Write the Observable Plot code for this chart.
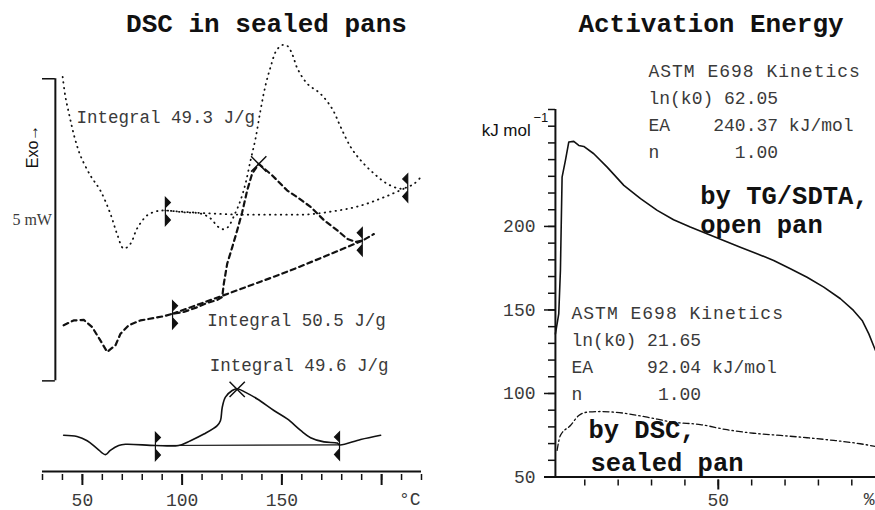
<!DOCTYPE html>
<html><head><meta charset="utf-8">
<script src="https://cdn.jsdelivr.net/npm/d3@7"></script>
<script src="https://cdn.jsdelivr.net/npm/@observablehq/plot@0.6"></script>
<style>
html,body{margin:0;padding:0;background:#fff;}
#wrap{display:flex;width:875px;height:510px;overflow:hidden;}
</style></head><body><div id="wrap"></div>
<script>
// ---------- Left panel: DSC in sealed pans (temperature °C, heat flow mW, offset curves) ----------
const dottedT  = [40.1, 41.5, 43.1, 44.8, 46.5, 49.0, 54.0, 59.0, 64.0, 67.4, 70.7, 74.1, 77.4, 82.5, 87.5, 91.6, 100.8, 109.2, 114.2, 117.7, 120.2, 122.8, 126.8, 129.3, 131.8, 134.3, 136.8, 139.3, 141.8, 144.3, 147.3, 150.4, 152.9, 155.4, 157.8, 162.7, 169.4, 175.3, 179.5, 184.5, 189.5, 196.2, 202.9, 209.6, 213.1, 216.2, 219.6];
const dottedMW = [5.03, 4.70, 4.45, 4.20, 3.98, 3.73, 3.40, 3.15, 2.77, 2.43, 2.19, 2.27, 2.52, 2.74, 2.81, 2.82, 2.79, 2.77, 2.69, 2.56, 2.51, 2.54, 2.79, 2.99, 3.27, 3.65, 4.01, 4.48, 4.89, 5.19, 5.47, 5.56, 5.54, 5.39, 5.17, 4.92, 4.75, 4.50, 4.20, 3.87, 3.65, 3.43, 3.26, 3.18, 3.21, 3.26, 3.37];
const dashedT  = [40.6, 45.6, 50.7, 54.9, 59.0, 62.4, 66.6, 69.1, 73.2, 79.1, 85.8, 90.8, 95.1, 100.8, 107.6, 112.6, 117.6, 120.1, 120.9, 122.6, 125.1, 127.6, 130.1, 132.6, 135.1, 138.4, 145.2, 152.7, 157.7, 164.4, 171.1, 177.8, 182.8, 187.0, 190.3, 196.1];
const dashedMW = [0.92, 1.00, 1.01, 0.89, 0.67, 0.48, 0.59, 0.78, 0.92, 1.00, 1.04, 1.07, 1.11, 1.14, 1.22, 1.29, 1.34, 1.39, 1.61, 1.94, 2.21, 2.49, 2.79, 3.15, 3.43, 3.59, 3.40, 3.15, 3.04, 2.88, 2.66, 2.49, 2.35, 2.30, 2.32, 2.43];
const solidT   = [40.6, 47.3, 52.4, 57.4, 61.5, 64.0, 68.2, 71.6, 86.6, 98.3, 104.2, 110.9, 117.6, 119.2, 120.1, 121.7, 125.1, 127.6, 131.8, 137.7, 146.0, 152.7, 159.4, 164.4, 171.1, 177.8, 178.9, 189.5, 199.5];
const solidMW  = [-0.90, -0.92, -0.99, -1.12, -1.22, -1.15, -1.07, -1.05, -1.07, -1.07, -0.99, -0.88, -0.74, -0.66, -0.44, -0.27, -0.16, -0.13, -0.19, -0.30, -0.49, -0.63, -0.82, -0.94, -1.01, -1.03, -1.06, -0.97, -0.90];

// integration baselines
const dottedBaseT  = [91.6, 109.2, 134.3, 159.4, 174.4, 189.5, 202.0, 213.1];
const dottedBaseMW = [2.82, 2.78, 2.75, 2.75, 2.80, 2.90, 3.05, 3.21];
const dashedBaseT  = [95.2, 129.3, 154.4, 174.4, 190.3];
const dashedBaseMW = [1.11, 1.52, 1.83, 2.10, 2.32];
const solidBaseT   = [86.6, 178.9];
const solidBaseMW  = [-1.07, -1.06];

// integration limits and peak marks
const limitStartT  = [91.6, 95.2, 86.6];
const limitStartMW = [2.82, 1.11, -1.07];
const limitEndT    = [213.1, 190.3, 178.9];
const limitEndMW   = [3.21, 2.32, -1.06];
const peakT  = [138.4, 127.6];
const peakMW = [3.59, -0.14];

const integrals = ["Integral 49.3 J/g", "Integral 50.5 J/g", "Integral 49.6 J/g"];
const scaleBarMW = [0, 5];

const leftMinorTicks = d3.range(30, 221, 10);
const leftMajorTicks = [50, 100, 150, 200];
const leftTickLabels = ["50", "100", "150", ""];

// ---------- Right panel: Activation energy vs conversion (%) ----------
const convTG = [1.2, 2.2, 2.7, 3.2, 4.2, 5.2, 6.7, 8.2, 9.7, 12.7, 16.7, 21.7, 26.7, 31.7, 36.6, 41.6, 46.6, 51.6, 56.6, 61.6, 66.6, 71.6, 76.6, 81.6, 86.6, 90.5, 93.1, 95.1, 97.1];
const eaTG   = [135.7, 147.7, 173.7, 229.5, 239.5, 250.5, 250.9, 248.5, 247.9, 243.5, 235.5, 224.6, 216.6, 209.6, 204.0, 199.6, 195.6, 191.6, 187.6, 183.7, 179.6, 174.7, 169.6, 163.7, 156.7, 149.7, 143.7, 135.7, 125.7];
const convDSC = [1.7, 2.7, 5.7, 8.2, 10.7, 14.7, 21.7, 28.7, 36.6, 44.6, 52.6, 60.6, 68.6, 76.6, 84.6, 92.5, 97.1];
const eaDSC   = [66.0, 74.9, 80.8, 86.8, 88.8, 89.2, 88.2, 85.8, 82.8, 81.4, 78.3, 76.2, 74.9, 73.5, 71.9, 69.9, 68.3];

const rightMinorY = d3.range(50, 271, 10);
const rightMajorY = [50, 100, 150, 200];
const rightMinorX = d3.range(10, 91, 10);
const rightMajorX = [50];

const kineticsTG  = ["ASTM E698 Kinetics", "ln(k0) 62.05", "EA\u00a0\u00a0\u00a0\u00a0240.37 kJ/mol", "n\u00a0\u00a0\u00a0\u00a0\u00a0\u00a0\u00a01.00"];
const kineticsDSC = ["ASTM E698 Kinetics", "ln(k0) 21.65", "EA\u00a0\u00a0\u00a0\u00a0\u00a092.04 kJ/mol", "n\u00a0\u00a0\u00a0\u00a0\u00a0\u00a0\u00a01.00"];
const curveNames  = ["by TG/SDTA,", "open pan", "by DSC,", "sealed pan"];

// ---------- helpers ----------
const MONO = "'Liberation Mono', 'DejaVu Sans Mono', monospace";
const SANS = "'Liberation Sans', Arial, sans-serif";
const SERIF = "'Liberation Serif', serif";
const INK = "#111";
const TXT = "#3a3a3a";
const rows = (xs, ys) => xs.map((x, i) => ({x, y: ys[i]}));

// limit marker: vertical stroke with two small triangles
function limitSymbol(dir) {
  return {draw(ctx) {
    ctx.moveTo(0, -13); ctx.lineTo(0, 15);
    ctx.moveTo(0, -13); ctx.lineTo(5 * dir, -8); ctx.lineTo(0, -3); ctx.closePath();
    ctx.moveTo(0, 4); ctx.lineTo(5 * dir, 9.5); ctx.lineTo(0, 15); ctx.closePath();
  }};
}

// annotation anchors (data coordinates)
const leftNotes = integrals.map((t, i) => ({text: t, x: [47.0, 112.6, 113.9][i], y: [4.26, 0.90, 0.156][i]}));

const left = Plot.plot({
  width: 437, height: 510,
  marginLeft: 42, marginRight: 16, marginTop: 39, marginBottom: 39,
  x: {domain: [30, 220], axis: null},
  y: {domain: [-1.5, 5.65], axis: null},
  style: {background: "#fff", fontFamily: MONO, overflow: "visible"},
  marks: [
    Plot.ruleY([-1.5], {stroke: INK, strokeWidth: 2}),
    Plot.axisX(leftMinorTicks, {label: null, tickSize: 6, dy: 3, tickFormat: () => "", stroke: INK, strokeWidth: 1.5}),
    Plot.axisX(leftMajorTicks, {label: null, tickSize: 11, dy: 3, tickPadding: 8, strokeWidth: 2, stroke: INK,
      tickFormat: d => leftTickLabels[leftMajorTicks.indexOf(d)], fontSize: 18, fontFamily: MONO, fill: TXT}),
    Plot.text(["°C"], {text: d => d, x: 214.1, y: -2.06, lineAnchor: "bottom", fontSize: 18, fontFamily: MONO, fill: TXT}),
    // scale bar
    Plot.ruleX([36.45], {y1: scaleBarMW[0], y2: scaleBarMW[1], stroke: INK, strokeWidth: 2}),
    Plot.ruleY(scaleBarMW, {x1: 30, x2: 36.45, stroke: INK, strokeWidth: 1.5}),
    Plot.text(["5 mW"], {text: d => d, x: 14.9, y: 2.58, textAnchor: "start", lineAnchor: "bottom", fontSize: 16, fontFamily: SERIF, fill: TXT}),
    Plot.text(["Exo\u2192"], {text: d => d, x: 25.4, y: 3.88, rotate: -90, fontSize: 16, fontFamily: SANS, fill: INK}),
    // baselines
    Plot.line(rows(dottedBaseT, dottedBaseMW), {x: "x", y: "y", stroke: INK, strokeWidth: 1.8, strokeDasharray: "0.5,5", strokeLinecap: "round", curve: "monotone-x"}),
    Plot.line(rows(dashedBaseT, dashedBaseMW), {x: "x", y: "y", stroke: INK, strokeWidth: 2.2, strokeDasharray: "5,4", curve: "monotone-x"}),
    Plot.line(rows(solidBaseT, solidBaseMW), {x: "x", y: "y", stroke: INK, strokeWidth: 1.2}),
    // curves
    Plot.line(rows(dottedT, dottedMW), {x: "x", y: "y", stroke: INK, strokeWidth: 1.8, strokeDasharray: "0.5,5", strokeLinecap: "round", curve: "catmull-rom"}),
    Plot.line(rows(dashedT, dashedMW), {x: "x", y: "y", stroke: INK, strokeWidth: 2.2, strokeDasharray: "5,4"}),
    Plot.line(rows(solidT, solidMW), {x: "x", y: "y", stroke: INK, strokeWidth: 1.6, curve: "catmull-rom"}),
    // limits & peaks
    Plot.dot(rows(limitStartT, limitStartMW), {x: "x", y: "y", symbol: limitSymbol(1), r: 5, fill: INK, stroke: INK, strokeWidth: 1.2}),
    Plot.dot(rows(limitEndT, limitEndMW), {x: "x", y: "y", symbol: limitSymbol(-1), r: 5, fill: INK, stroke: INK, strokeWidth: 1.2}),
    Plot.dot(rows(peakT, peakMW), {x: "x", y: "y", symbol: "times", r: 7, stroke: INK, strokeWidth: 1.5}),
    // labels
    Plot.text(leftNotes, {x: "x", y: "y", text: "text", textAnchor: "start", lineAnchor: "bottom", fontSize: 17.5, fontFamily: MONO, fill: TXT}),
    Plot.text(["DSC in sealed pans"], {text: d => d, frameAnchor: "top", dx: 34.5, dy: -7.3, lineAnchor: "bottom", fontSize: 26, fontWeight: "bold", fontFamily: MONO, fill: INK})
  ]
});

const tgNotes  = kineticsTG.map((t, i) => ({text: t, x: 29.07, y: [289.2, 273.1, 256.9, 240.7][i]}));
const dscNotes = kineticsDSC.map((t, i) => ({text: t, x: 6.02, y: [144.3, 128.7, 112.0, 95.8][i]}));
const nameNotes = curveNames.map((t, i) => ({text: t, x: [44.6, 44.6, 11.1, 11.7][i], y: [213.2, 195.8, 73.1, 53.3][i]}));

const right = Plot.plot({
  width: 438, height: 510,
  marginLeft: 107, marginRight: 0, marginTop: 109, marginBottom: 33.5,
  x: {domain: [-2.07, 97.1], axis: null},
  y: {domain: [50, 270], axis: null},
  style: {background: "#fff", fontFamily: MONO},
  marks: [
    Plot.ruleY([50], {stroke: INK, strokeWidth: 2}),
    Plot.ruleX([1.2], {stroke: INK, strokeWidth: 2}),
    Plot.axisY(rightMinorY, {label: null, tickSize: 7, dx: 11, tickFormat: () => "", stroke: INK, strokeWidth: 1.5}),
    Plot.axisY(rightMajorY, {label: null, tickSize: 11, dx: 11, tickPadding: 9, stroke: INK, strokeWidth: 1.5, fontSize: 18, fontFamily: MONO, fill: TXT}),
    Plot.axisX(rightMinorX, {label: null, tickSize: 6, dy: 3, tickFormat: () => "", stroke: INK, strokeWidth: 1.5}),
    Plot.axisX(rightMajorX, {label: null, tickSize: 10, dy: 3, tickPadding: 3, stroke: INK, strokeWidth: 2, fontSize: 18, fontFamily: MONO, fill: TXT}),
    Plot.text(["%"], {text: d => d, x: 93.6, y: 33.0, textAnchor: "start", lineAnchor: "bottom", fontSize: 18, fontFamily: MONO, fill: TXT}),
    Plot.text(["kJ mol"], {text: d => d, x: -20.9, y: 253.9, textAnchor: "start", lineAnchor: "bottom", fontSize: 17, fontFamily: SANS, fill: INK}),
    Plot.text(["\u22121"], {text: d => d, x: -5.4, y: 262.3, textAnchor: "start", lineAnchor: "bottom", fontSize: 13, fontFamily: SANS, fill: INK}),
    Plot.line(rows(convTG, eaTG), {x: "x", y: "y", stroke: INK, strokeWidth: 1.6, clip: true}),
    Plot.line(rows(convDSC, eaDSC), {x: "x", y: "y", stroke: INK, strokeWidth: 1.3, strokeDasharray: "6,3,1.5,3", clip: true, curve: "monotone-x"}),
    Plot.text(tgNotes, {x: "x", y: "y", text: "text", textAnchor: "start", lineAnchor: "bottom", fontSize: 18, fontFamily: MONO, fill: TXT}),
    Plot.text(dscNotes, {x: "x", y: "y", text: "text", textAnchor: "start", lineAnchor: "bottom", fontSize: 18, fontFamily: MONO, fill: TXT}),
    Plot.text(nameNotes, {x: "x", y: "y", text: "text", textAnchor: "start", lineAnchor: "bottom", fontSize: 25.5, fontWeight: "bold", fontFamily: MONO, fill: INK}),
    Plot.text(["Activation Energy"], {text: d => d, frameAnchor: "top", dx: 1, dy: -77.3, lineAnchor: "bottom", fontSize: 26, fontWeight: "bold", fontFamily: MONO, fill: INK})
  ]
});

right.querySelectorAll("text").forEach(t => { if (t.textContent.startsWith("ASTM")) t.setAttribute("letter-spacing", "1"); });

const wrap = document.getElementById("wrap");
wrap.appendChild(left);
wrap.appendChild(right);
</script></body></html>
